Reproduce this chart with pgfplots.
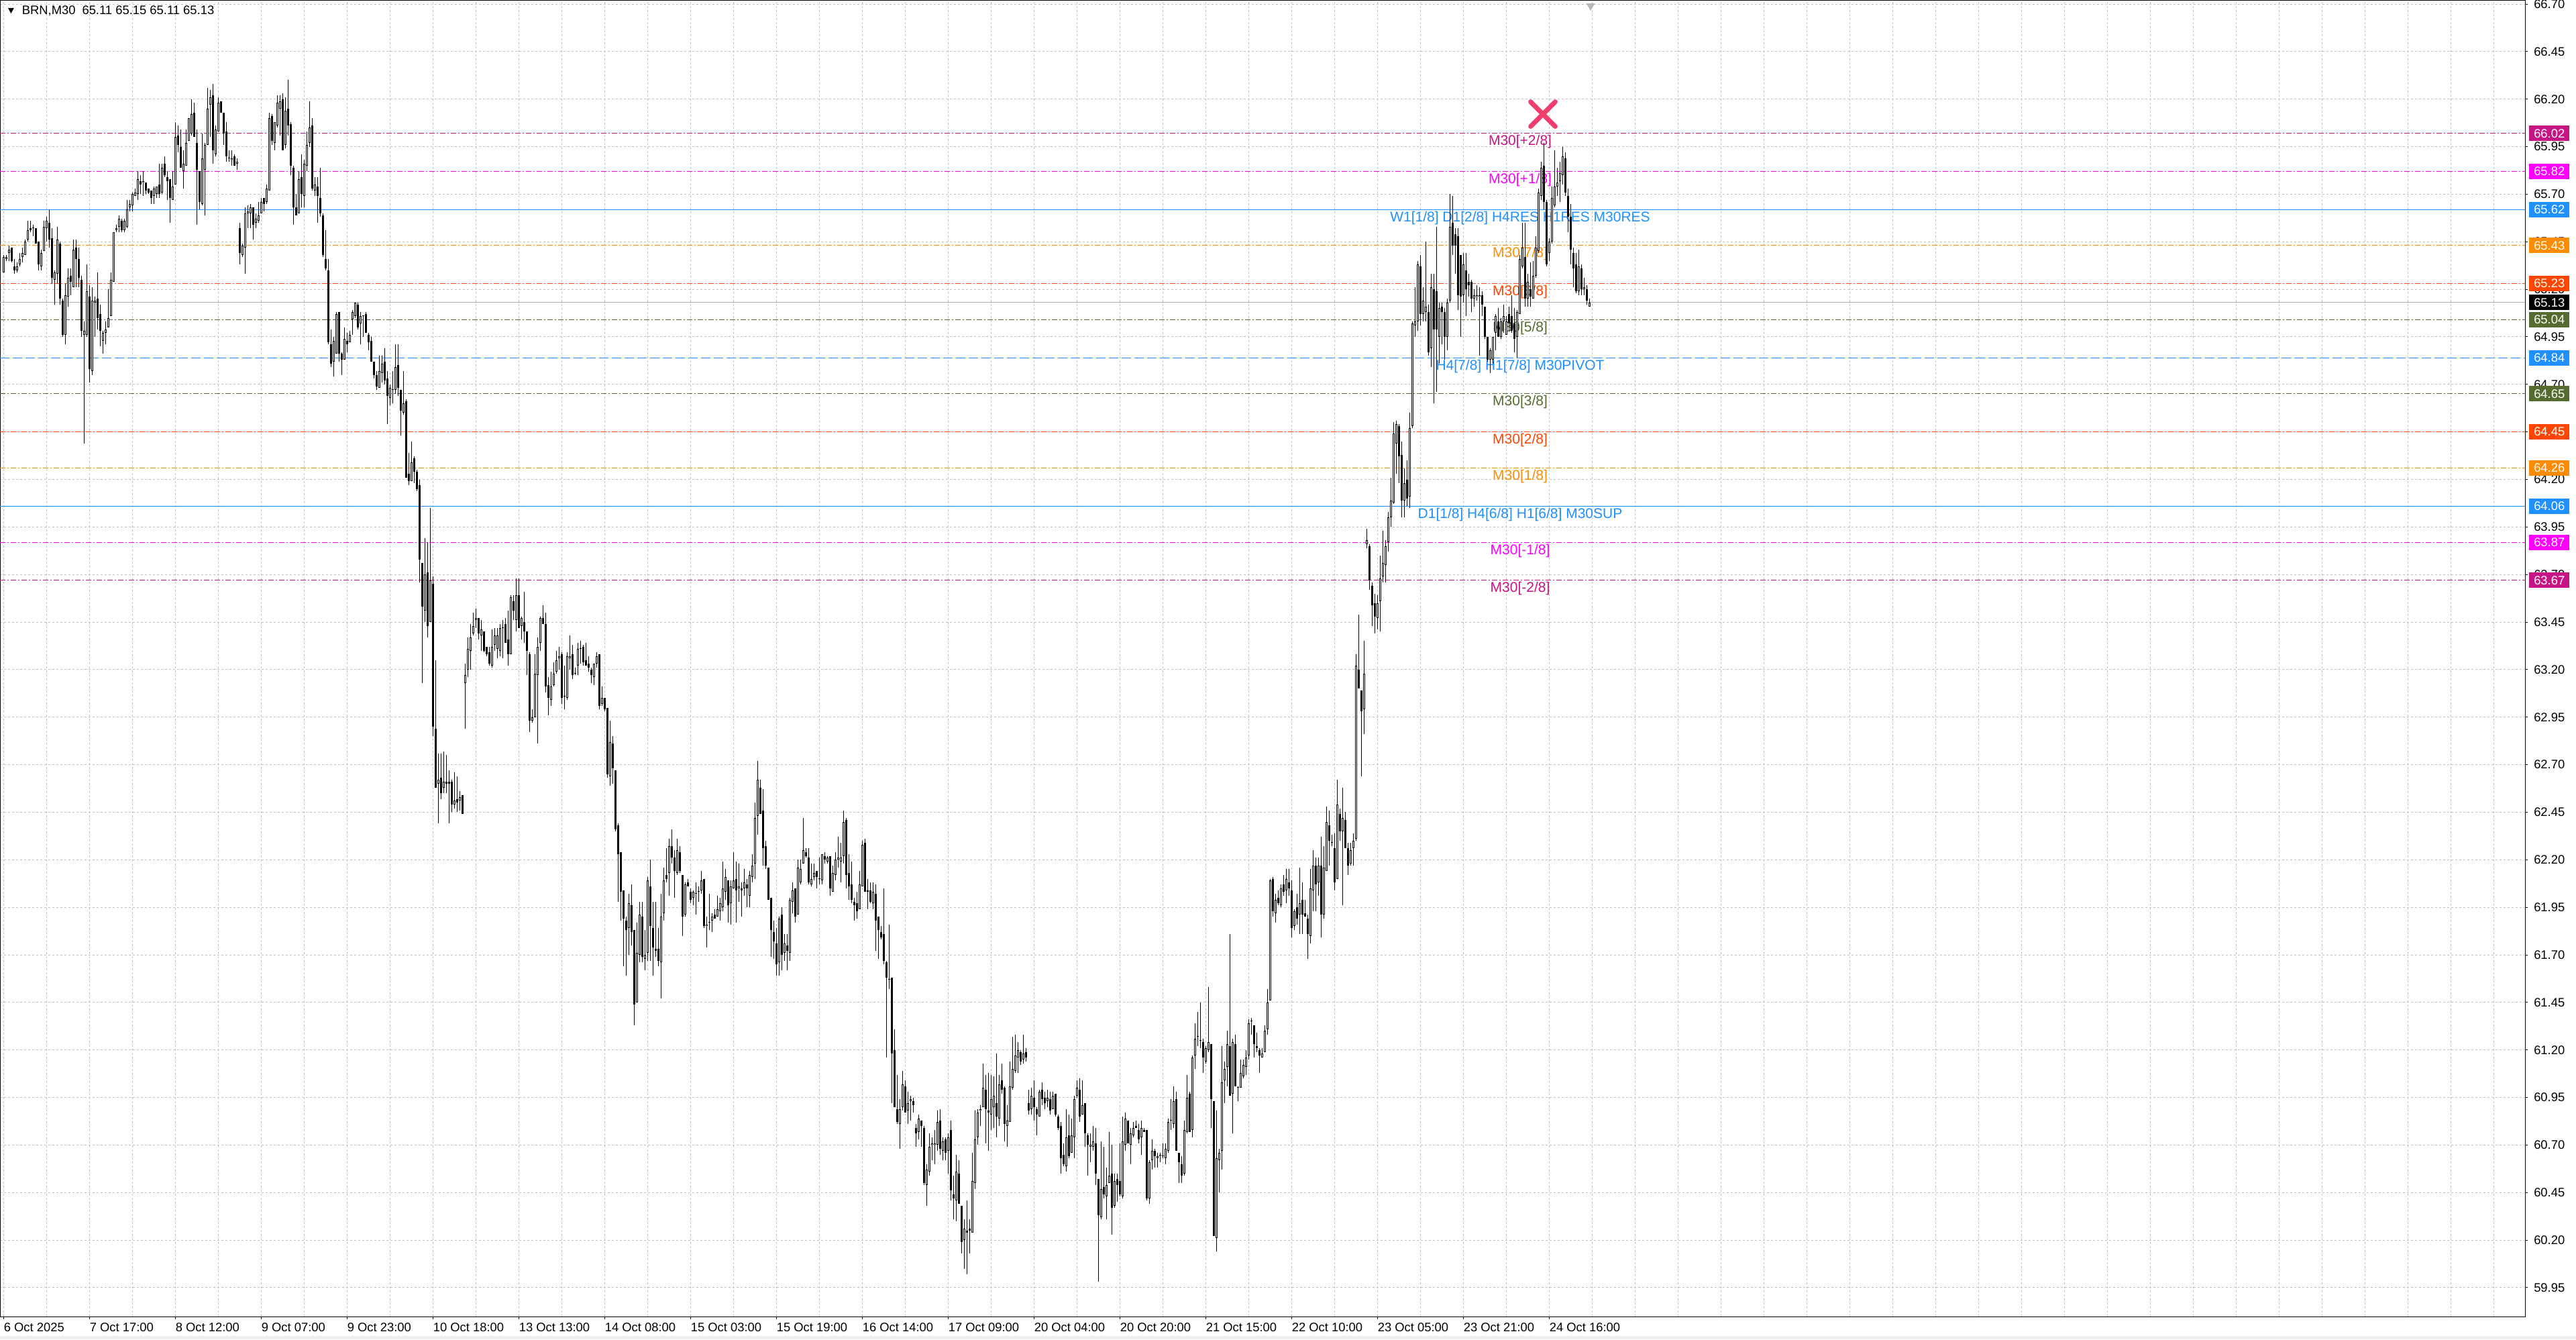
\documentclass[border=0pt]{standalone}
\usepackage{fontspec}
\setmainfont{Liberation Sans}
\usepackage{pgfplots}
\pgfplotsset{compat=1.18}
\usepackage{pgfplotstable}
\definecolor{mvr}{HTML}{C71585}
\definecolor{mag}{HTML}{FF00FF}
\definecolor{dblue}{HTML}{1E90FF}
\definecolor{dorange}{HTML}{FF8C00}
\definecolor{ored}{HTML}{FF4500}
\definecolor{dolive}{HTML}{556B2F}
\definecolor{gridc}{HTML}{C0C0C0}
\definecolor{pline}{HTML}{B0B0B0}
\definecolor{xred}{HTML}{EE3F6F}
\newcommand\axfont{\fontsize{4.6pt}{5.5pt}\selectfont}
\newcommand\lvfont{\fontsize{5.25pt}{6pt}\selectfont}
\tikzset{dashdot/.style={dash pattern=on 2pt off 0.75pt on 0.5pt off 0.75pt},
         longdash/.style={dash pattern=on 3.5pt off 1.25pt}}
\pgfplotstableread{
i O H L C
0 65.29 65.38 65.29 65.37
1 65.36 65.38 65.35 65.37
2 65.39 65.43 65.35 65.41
3 65.42 65.42 65.34 65.35
4 65.32 65.36 65.28 65.30
5 65.30 65.34 65.29 65.32
6 65.33 65.39 65.32 65.36
7 65.37 65.42 65.34 65.39
8 65.38 65.46 65.38 65.45
9 65.46 65.56 65.45 65.51
10 65.52 65.56 65.50 65.51
11 65.52 65.54 65.48 65.52
12 65.52 65.52 65.44 65.44
13 65.45 65.45 65.30 65.33
14 65.32 65.41 65.30 65.39
15 65.40 65.56 65.40 65.53
16 65.52 65.58 65.45 65.56
17 65.55 65.62 65.42 65.46
18 65.47 65.52 65.23 65.26
19 65.25 65.30 65.12 65.29
20 65.28 65.53 65.23 65.46
21 65.44 65.45 65.12 65.15
22 65.14 65.15 64.95 64.96
23 64.96 65.23 64.91 65.17
24 65.16 65.31 65.11 65.26
25 65.27 65.31 65.17 65.24
26 65.21 65.46 65.21 65.41
27 65.42 65.46 65.21 65.36
28 65.36 65.42 65.21 65.26
29 65.25 65.27 64.95 64.98
30 64.96 65.03 64.39 64.98
31 64.96 65.33 64.95 65.19
32 65.16 65.22 64.71 64.78
33 64.77 65.21 64.75 65.14
34 65.13 65.16 64.95 65.14
35 65.15 65.29 64.99 65.05
36 65.07 65.12 64.90 64.98
37 64.93 64.98 64.86 64.97
38 64.97 65.03 64.91 64.99
39 65.00 65.20 65.00 65.05
40 65.06 65.29 65.06 65.25
41 65.24 65.50 65.24 65.50
42 65.51 65.54 65.50 65.52
43 65.53 65.59 65.50 65.57
44 65.56 65.57 65.50 65.51
45 65.51 65.57 65.50 65.56
46 65.53 65.67 65.52 65.62
47 65.63 65.67 65.61 65.65
48 65.64 65.71 65.61 65.70
49 65.69 65.73 65.69 65.71
50 65.70 65.82 65.67 65.78
51 65.77 65.80 65.70 65.75
52 65.76 65.82 65.69 65.77
53 65.76 65.76 65.70 65.72
54 65.73 65.73 65.70 65.71
55 65.72 65.72 65.65 65.68
56 65.69 65.74 65.65 65.73
57 65.70 65.74 65.68 65.74
58 65.75 65.86 65.68 65.70
59 65.71 65.86 65.70 65.84
60 65.86 65.90 65.79 65.80
61 65.79 65.82 65.67 65.77
62 65.78 65.78 65.55 65.68
63 65.67 65.82 65.67 65.74
64 65.75 66.08 65.75 66.00
65 66.01 66.06 65.92 65.96
66 65.95 66.04 65.84 65.84
67 65.82 65.93 65.73 65.86
68 65.85 66.04 65.85 65.97
69 65.98 66.10 65.98 66.10
70 66.02 66.20 66.01 66.12
71 66.13 66.18 66.00 66.00
72 65.97 66.04 65.54 65.83
73 65.82 65.82 65.62 65.66
74 65.65 66.02 65.64 65.89
75 65.83 65.97 65.59 65.96
76 65.96 66.26 65.96 66.15
77 66.17 66.25 66.00 66.21
78 66.22 66.28 65.86 65.93
79 65.91 66.06 65.90 66.04
80 66.03 66.21 66.03 66.18
81 66.19 66.19 66.13 66.13
82 66.13 66.13 65.96 66.02
83 66.03 66.08 65.87 65.90
84 65.89 65.93 65.87 65.89
85 65.88 65.93 65.85 65.89
86 65.90 65.91 65.85 65.85
87 65.86 65.89 65.83 65.87
88 65.52 65.55 65.33 65.39
89 65.38 65.44 65.37 65.43
90 65.42 65.63 65.28 65.60
91 65.60 65.64 65.52 65.61
92 65.60 65.65 65.52 65.63
93 65.63 65.63 65.46 65.54
94 65.55 65.60 65.52 65.57
95 65.56 65.66 65.55 65.59
96 65.60 65.68 65.60 65.66
97 65.68 65.68 65.61 65.65
98 65.66 65.75 65.65 65.73
99 65.72 66.13 65.72 66.10
100 66.11 66.12 65.96 65.98
101 65.97 66.08 65.93 66.08
102 66.06 66.22 66.05 66.18
103 66.15 66.22 66.01 66.19
104 66.20 66.23 65.93 65.93
105 65.96 66.21 65.94 66.14
106 66.15 66.30 66.01 66.06
107 66.07 66.08 65.80 65.85
108 65.84 65.85 65.54 65.63
109 65.63 65.70 65.59 65.59
110 65.60 65.82 65.60 65.78
111 65.79 65.91 65.63 65.70
112 65.69 65.88 65.63 65.86
113 65.85 66.03 65.82 65.96
114 65.97 66.19 65.95 66.05
115 66.06 66.10 65.72 65.73
116 65.72 65.79 65.69 65.75
117 65.74 65.79 65.55 65.69
118 65.68 65.84 65.58 65.60
119 65.59 65.60 65.37 65.38
120 65.36 65.51 65.30 65.31
121 65.30 65.36 64.91 64.92
122 64.91 64.99 64.79 64.81
123 64.82 64.95 64.74 64.93
124 64.86 65.08 64.86 65.07
125 65.08 65.08 64.82 64.86
126 64.86 64.87 64.75 64.83
127 64.83 65.00 64.83 64.94
128 64.93 64.97 64.87 64.91
129 64.92 64.98 64.92 64.96
130 65.04 65.09 64.96 65.08
131 65.06 65.13 65.05 65.13
132 65.12 65.13 64.99 65.00
133 65.02 65.08 64.91 65.06
134 65.06 65.06 64.95 65.06
135 65.07 65.08 64.97 64.97
136 64.96 64.97 64.88 64.92
137 64.93 64.95 64.82 64.82
138 64.82 64.82 64.73 64.75
139 64.75 64.77 64.67 64.69
140 64.68 64.85 64.68 64.77
141 64.76 64.85 64.71 64.81
142 64.82 64.89 64.70 64.72
143 64.73 64.77 64.49 64.64
144 64.63 64.70 64.59 64.68
145 64.67 64.77 64.60 64.67
146 64.67 64.91 64.65 64.79
147 64.80 64.91 64.64 64.68
148 64.67 64.67 64.43 64.56
149 64.55 64.77 64.54 64.60
150 64.61 64.62 64.21 64.21
151 64.23 64.34 64.17 64.19
152 64.19 64.40 64.19 64.29
153 64.31 64.32 64.18 64.24
154 64.24 64.25 64.14 64.15
155 64.17 64.20 63.66 63.78
156 63.76 63.76 63.13 63.53
157 63.51 63.89 63.45 63.70
158 63.71 63.87 63.37 63.43
159 63.45 64.05 63.45 63.67
160 63.65 63.69 62.85 62.90
161 62.89 63.25 62.58 62.58
162 62.60 62.76 62.39 62.62
163 62.63 62.76 62.52 62.55
164 62.58 62.77 62.55 62.61
165 62.61 62.75 62.55 62.60
166 62.61 62.67 62.39 62.60
167 62.61 62.62 62.45 62.49
168 62.49 62.66 62.47 62.51
169 62.52 62.64 62.45 62.50
170 62.51 62.56 62.46 62.53
171 62.54 62.54 62.44 62.44
172 63.13 63.23 62.89 63.17
173 63.20 63.37 63.16 63.31
174 63.30 63.44 63.20 63.37
175 63.39 63.50 63.38 63.43
176 63.46 63.52 63.42 63.47
177 63.47 63.47 63.36 63.39
178 63.38 63.46 63.30 63.41
179 63.40 63.40 63.29 63.30
180 63.32 63.32 63.27 63.28
181 63.29 63.32 63.22 63.23
182 63.22 63.41 63.21 63.32
183 63.33 63.42 63.30 63.38
184 63.31 63.42 63.26 63.38
185 63.30 63.44 63.27 63.42
186 63.42 63.46 63.26 63.42
187 63.44 63.47 63.34 63.34
188 63.36 63.51 63.22 63.28
189 63.28 63.59 63.28 63.58
190 63.56 63.59 63.46 63.51
191 63.46 63.68 63.40 63.59
192 63.59 63.68 63.42 63.42
193 63.43 63.48 63.36 63.47
194 63.45 63.61 63.34 63.40
195 63.40 63.40 63.17 63.30
196 63.28 63.29 62.87 62.93
197 62.93 62.99 62.92 62.95
198 62.95 63.28 62.95 63.18
199 63.17 63.37 62.81 63.32
200 63.34 63.48 63.30 63.47
201 63.47 63.54 63.44 63.44
202 63.44 63.50 63.08 63.11
203 63.12 63.16 62.96 63.05
204 63.04 63.19 63.01 63.11
205 63.12 63.24 63.11 63.18
206 63.19 63.30 63.18 63.25
207 63.26 63.32 63.20 63.27
208 63.28 63.29 63.02 63.05
209 63.06 63.22 62.99 63.06
210 63.05 63.29 63.04 63.27
211 63.26 63.38 63.20 63.27
212 63.28 63.33 63.15 63.17
213 63.18 63.21 63.17 63.18
214 63.22 63.34 63.17 63.31
215 63.31 63.35 63.23 63.31
216 63.32 63.33 63.22 63.24
217 63.25 63.34 63.22 63.22
218 63.23 63.27 63.19 63.21
219 63.20 63.21 63.13 63.17
220 63.16 63.23 63.12 63.23
221 63.23 63.29 63.21 63.27
222 63.28 63.28 62.99 63.01
223 63.02 63.11 63.01 63.05
224 63.05 63.05 62.98 62.99
225 63.00 63.00 62.63 62.65
226 62.64 62.93 62.59 62.82
227 62.81 62.85 62.60 62.68
228 62.67 62.67 62.35 62.36
229 62.38 62.39 61.98 62.23
230 62.24 62.24 61.88 62.03
231 62.04 62.04 61.64 61.89
232 61.88 61.90 61.59 61.83
233 61.84 62.02 61.70 61.97
234 61.96 62.07 61.75 61.82
235 61.83 61.83 61.33 61.44
236 61.45 61.87 61.45 61.71
237 61.70 61.98 61.66 61.91
238 61.90 61.98 61.66 61.69
239 61.68 61.83 61.62 61.70
240 61.71 62.11 61.67 62.09
241 62.06 62.20 61.67 61.85
242 61.84 61.98 61.59 61.74
243 61.73 61.98 61.69 61.72
244 61.73 61.84 61.64 61.67
245 61.66 62.02 61.47 61.90
246 61.92 62.16 61.88 62.09
247 62.12 62.26 62.08 62.10
248 62.13 62.31 62.01 62.27
249 62.27 62.36 62.18 62.21
250 62.21 62.25 62.00 62.14
251 62.13 62.31 62.12 62.25
252 62.24 62.27 62.13 62.14
253 62.12 62.12 61.80 61.90
254 61.91 62.08 61.90 62.07
255 62.08 62.10 62.06 62.06
256 62.03 62.05 61.97 61.99
257 62.00 62.04 61.96 62.03
258 62.02 62.08 61.91 62.02
259 62.03 62.06 61.98 62.03
260 62.04 62.14 62.02 62.09
261 62.10 62.10 61.84 61.85
262 61.85 61.90 61.74 61.86
263 61.87 62.02 61.83 61.87
264 61.88 61.92 61.82 61.90
265 61.91 61.94 61.89 61.89
266 61.90 62.01 61.90 61.94
267 61.93 62.00 61.88 61.97
268 61.95 62.19 61.93 62.05
269 62.03 62.15 61.99 62.11
270 62.09 62.09 61.87 61.96
271 61.97 62.09 61.86 62.06
272 62.05 62.24 62.05 62.09
273 62.10 62.19 61.87 62.04
274 62.05 62.18 61.98 62.06
275 62.05 62.08 61.90 62.04
276 62.05 62.15 62.01 62.08
277 62.07 62.10 61.95 62.05
278 62.01 62.14 61.95 62.12
279 62.11 62.23 62.08 62.17
280 62.18 62.50 62.10 62.42
281 62.43 62.72 62.33 62.62
282 62.58 62.62 62.44 62.44
283 62.46 62.57 62.17 62.26
284 62.27 62.30 62.15 62.17
285 62.16 62.16 61.99 61.99
286 62.00 62.00 61.69 61.83
287 61.82 61.88 61.68 61.77
288 61.76 61.84 61.59 61.65
289 61.66 61.90 61.59 61.89
290 61.91 61.95 61.62 61.70
291 61.71 61.81 61.67 61.76
292 61.75 61.81 61.62 61.72
293 61.71 62.00 61.67 61.99
294 61.98 62.08 61.92 62.04
295 62.05 62.05 61.87 61.90
296 61.91 62.20 61.91 62.16
297 62.08 62.20 62.07 62.15
298 62.18 62.42 62.18 62.25
299 62.24 62.26 62.21 62.22
300 62.21 62.26 62.07 62.08
301 62.07 62.18 62.06 62.10
302 62.11 62.18 62.09 62.13
303 62.14 62.14 62.05 62.11
304 62.10 62.21 62.07 62.10
305 62.09 62.23 62.07 62.23
306 62.22 62.24 62.18 62.20
307 62.19 62.22 62.18 62.21
308 62.22 62.22 62.01 62.05
309 62.03 62.17 62.03 62.13
310 62.12 62.24 62.09 62.20
311 62.20 62.32 62.16 62.21
312 62.19 62.29 62.08 62.21
313 62.22 62.46 62.18 62.40
314 62.41 62.42 62.05 62.12
315 62.13 62.23 61.99 62.06
316 62.07 62.19 61.97 61.99
317 61.98 62.00 61.88 61.96
318 61.97 62.03 61.89 61.93
319 61.94 62.14 61.94 62.07
320 62.06 62.30 62.06 62.28
321 62.29 62.31 62.03 62.03
322 62.04 62.10 61.94 62.03
323 62.04 62.08 61.97 61.98
324 61.97 62.08 61.94 62.03
325 62.02 62.07 61.72 61.88
326 61.90 61.90 61.68 61.83
327 61.82 61.85 61.78 61.79
328 61.81 62.05 61.65 61.67
329 61.66 61.67 61.16 61.58
330 61.57 61.86 61.52 61.57
331 61.58 61.58 60.92 61.18
332 61.20 61.31 60.90 60.90
333 60.89 61.07 60.81 60.82
334 60.81 60.94 60.68 60.89
335 60.90 61.09 60.88 61.02
336 61.01 61.04 60.87 60.87
337 60.88 60.98 60.81 60.92
338 60.93 60.96 60.83 60.94
339 60.93 60.95 60.87 60.91
340 60.79 60.81 60.69 60.76
341 60.77 60.86 60.73 60.84
342 60.83 60.83 60.69 60.80
343 60.79 60.80 60.49 60.50
344 60.49 60.60 60.38 60.57
345 60.56 60.76 60.54 60.69
346 60.70 60.74 60.62 60.71
347 60.70 60.78 60.60 60.71
348 60.70 60.88 60.67 60.82
349 60.83 60.89 60.65 60.68
350 60.67 60.74 60.62 60.72
351 60.73 60.74 60.62 60.66
352 60.67 60.76 60.55 60.74
353 60.78 60.83 60.41 60.46
354 60.44 60.54 60.31 60.42
355 60.41 60.65 60.30 60.56
356 60.55 60.62 60.39 60.39
357 60.38 60.38 60.13 60.19
358 60.20 60.31 60.05 60.26
359 60.25 60.41 60.02 60.24
360 60.26 60.31 60.13 60.25
361 60.24 60.66 60.24 60.51
362 60.50 60.88 60.47 60.73
363 60.74 60.89 60.70 60.87
364 60.88 60.91 60.80 60.89
365 60.90 61.13 60.90 61.00
366 60.99 61.07 60.71 60.89
367 60.88 61.08 60.67 60.87
368 60.86 61.07 60.78 60.94
369 60.90 61.06 60.79 60.96
370 60.92 61.18 60.74 60.85
371 60.84 61.07 60.80 61.02
372 61.04 61.13 60.97 60.99
373 61.00 61.01 60.72 60.81
374 60.80 60.91 60.69 60.83
375 60.82 61.14 60.82 61.01
376 61.00 61.27 60.99 61.10
377 61.09 61.28 61.08 61.17
378 61.16 61.24 61.08 61.20
379 61.19 61.20 61.12 61.14
380 61.15 61.28 61.13 61.18
381 61.19 61.21 61.14 61.16
382 60.92 60.99 60.86 60.88
383 60.89 61.00 60.86 60.96
384 60.95 61.04 60.83 60.90
385 60.89 60.90 60.75 60.86
386 60.85 60.99 60.85 60.98
387 60.99 61.03 60.91 60.94
388 60.95 60.98 60.89 60.92
389 60.93 60.99 60.90 60.95
390 60.94 60.98 60.86 60.88
391 60.89 60.98 60.89 60.96
392 60.97 60.97 60.85 60.86
393 60.85 60.86 60.78 60.79
394 60.80 60.82 60.55 60.63
395 60.65 60.71 60.59 60.60
396 60.59 60.89 60.56 60.74
397 60.75 60.86 60.63 60.64
398 60.66 60.84 60.66 60.75
399 60.74 60.96 60.63 60.94
400 60.96 61.04 60.95 61.00
401 60.99 61.05 60.82 60.85
402 60.86 61.04 60.86 60.91
403 60.92 60.92 60.69 60.76
404 60.75 60.76 60.54 60.70
405 60.69 60.76 60.61 60.70
406 60.69 60.80 60.67 60.72
407 60.71 60.79 60.49 60.55
408 60.52 60.52 59.98 60.33
409 60.32 60.72 60.31 60.47
410 60.48 60.69 60.42 60.44
411 60.43 60.58 60.31 60.49
412 60.50 60.77 60.50 60.54
413 60.55 60.70 60.23 60.37
414 60.38 60.55 60.37 60.51
415 60.52 60.55 60.40 60.49
416 60.51 60.71 60.43 60.44
417 60.43 60.85 60.42 60.72
418 60.70 60.87 60.67 60.84
419 60.83 60.83 60.71 60.71
420 60.70 60.79 60.60 60.76
421 60.75 60.82 60.74 60.79
422 60.80 60.83 60.79 60.79
423 60.78 60.81 60.71 60.73
424 60.74 60.83 60.65 60.79
425 60.78 60.79 60.77 60.77
426 60.78 60.78 60.41 60.42
427 60.42 60.62 60.39 60.61
428 60.62 60.73 60.57 60.67
429 60.67 60.68 60.58 60.64
430 60.63 60.66 60.58 60.64
431 60.64 60.66 60.61 60.65
432 60.64 60.71 60.63 60.64
433 60.63 60.71 60.60 60.68
434 60.67 60.84 60.66 60.82
435 60.83 60.94 60.78 60.83
436 60.81 61.01 60.79 60.93
437 60.94 60.98 60.67 60.67
438 60.66 60.66 60.50 60.61
439 60.60 60.64 60.50 60.54
440 60.55 60.83 60.54 60.78
441 60.77 61.07 60.76 60.95
442 60.97 60.98 60.77 60.77
443 60.78 61.17 60.74 61.16
444 61.17 61.34 61.10 61.26
445 61.27 61.40 61.22 61.27
446 61.25 61.45 61.21 61.25
447 61.24 61.26 61.08 61.16
448 61.14 61.22 61.13 61.21
449 61.20 61.53 61.19 61.24
450 61.23 61.23 60.79 60.94
451 60.93 60.93 60.22 60.22
452 60.21 60.88 60.14 60.63
453 60.62 60.68 60.45 60.66
454 60.67 61.22 60.57 61.03
455 61.04 61.14 60.92 61.10
456 61.11 61.30 61.01 61.23
457 61.22 61.81 60.96 60.96
458 60.97 61.26 60.76 61.24
459 61.23 61.28 61.01 61.01
460 61.00 61.01 60.93 61.00
461 61.00 61.15 61.00 61.08
462 61.06 61.15 61.05 61.12
463 61.11 61.20 61.07 61.16
464 61.17 61.36 61.15 61.34
465 61.35 61.37 61.28 61.35
466 61.33 61.33 61.16 61.23
467 61.22 61.29 61.19 61.21
468 61.20 61.21 61.08 61.17
469 61.16 61.21 61.16 61.18
470 61.19 61.33 61.19 61.30
471 61.31 61.52 61.28 61.45
472 61.46 62.10 61.46 62.09
473 62.10 62.11 61.90 61.93
474 61.92 62.02 61.87 61.99
475 62.00 62.04 61.96 61.97
476 61.96 62.07 61.95 62.05
477 62.07 62.12 62.01 62.03
478 62.04 62.15 61.97 62.10
479 62.08 62.15 62.01 62.05
480 62.04 62.09 61.79 61.84
481 61.85 61.94 61.83 61.93
482 61.95 62.02 61.86 61.89
483 61.91 62.16 61.81 61.97
484 61.99 62.08 61.81 61.91
485 61.92 61.99 61.90 61.90
486 61.89 61.91 61.68 61.81
487 61.80 62.15 61.76 62.05
488 62.04 62.25 61.93 62.17
489 62.17 62.21 61.93 62.07
490 62.08 62.21 62.01 62.17
491 62.17 62.32 61.79 61.91
492 61.91 62.27 61.89 62.16
493 62.14 62.48 62.14 62.40
494 62.38 62.46 62.17 62.30
495 62.29 62.33 62.27 62.29
496 62.26 62.34 62.04 62.08
497 62.10 62.62 62.10 62.49
498 62.44 62.47 62.30 62.35
499 62.35 62.58 61.96 62.42
500 62.41 62.45 62.26 62.26
501 62.26 62.29 62.12 62.17
502 62.18 62.29 62.17 62.25
503 62.26 62.34 62.17 62.30
504 62.31 63.28 62.30 63.22
505 63.20 63.49 63.10 63.10
506 63.09 63.09 62.64 62.98
507 62.99 63.35 62.86 63.18
508 63.86 63.94 63.84 63.88
509 63.85 63.86 63.62 63.67
510 63.64 63.66 63.43 63.54
511 63.55 63.60 63.39 63.48
512 63.47 63.59 63.41 63.55
513 63.56 63.80 63.40 63.68
514 63.69 63.93 63.66 63.76
515 63.75 63.88 63.66 63.85
516 63.87 64.03 63.82 64.00
517 64.00 64.21 63.95 64.09
518 64.08 64.50 64.07 64.44
519 64.39 64.51 64.23 64.49
520 64.48 64.49 64.18 64.32
521 64.33 64.40 64.00 64.09
522 64.09 64.26 64.00 64.18
523 64.20 64.30 64.06 64.10
524 64.11 64.55 64.05 64.47
525 64.48 65.03 64.47 65.02
526 65.01 65.21 64.95 65.03
527 65.03 65.35 64.98 65.33
528 65.32 65.38 65.01 65.07
529 65.07 65.21 65.03 65.14
530 65.08 65.45 65.03 65.11
531 65.08 65.12 64.85 64.87
532 64.89 65.28 64.79 65.21
533 65.20 65.28 64.60 64.99
534 65.19 65.53 64.66 64.99
535 64.95 65.13 64.81 65.10
536 65.11 65.13 64.91 65.08
537 65.08 65.10 64.83 64.95
538 64.95 65.15 64.88 65.13
539 65.14 65.70 65.13 65.53
540 65.55 65.69 65.38 65.43
541 65.49 65.52 65.28 65.43
542 65.48 65.52 65.09 65.17
543 65.38 65.38 64.95 65.16
544 65.17 65.39 65.13 65.33
545 65.30 65.39 65.06 65.20
546 65.24 65.28 65.16 65.22
547 65.24 65.25 65.08 65.15
548 65.15 65.20 65.11 65.17
549 65.16 65.22 65.14 65.17
550 65.16 65.21 64.85 65.17
551 65.17 65.19 65.06 65.12
552 65.11 65.11 64.94 64.95
553 64.95 64.95 64.82 64.83
554 64.83 64.89 64.76 64.88
555 64.83 64.95 64.81 64.95
556 64.97 65.07 64.88 65.06
557 65.03 65.10 64.95 64.95
558 64.95 65.05 64.94 65.03
559 65.03 65.12 64.97 65.06
560 64.96 65.06 64.96 65.03
561 65.07 65.11 64.98 65.02
562 65.06 65.17 64.97 64.98
563 65.02 65.10 64.87 64.94
564 64.95 65.09 64.84 65.08
565 65.07 65.38 65.07 65.36
566 65.32 65.55 65.31 65.42
567 65.37 65.55 65.11 65.15
568 65.15 65.28 65.11 65.24
569 65.20 65.34 65.11 65.16
570 65.15 65.35 65.15 65.27
571 65.27 65.48 65.26 65.42
572 65.40 65.73 65.39 65.71
573 65.69 65.87 65.67 65.84
574 65.85 65.97 65.62 65.66
575 65.66 65.67 65.32 65.33
576 65.39 65.47 65.35 65.45
577 65.45 65.74 65.44 65.68
578 65.64 65.93 65.63 65.74
579 65.74 65.84 65.69 65.76
580 65.77 65.87 65.66 65.81
581 65.80 65.95 65.75 65.90
582 65.89 65.92 65.69 65.71
583 65.69 65.73 65.50 65.58
584 65.58 65.65 65.33 65.41
585 65.39 65.42 65.21 65.31
586 65.33 65.39 65.18 65.19
587 65.19 65.41 65.17 65.32
588 65.31 65.33 65.17 65.20
589 65.20 65.26 65.17 65.21
590 65.20 65.22 65.12 65.14
591 65.11 65.15 65.11 65.13
}\candles
% build the candle paths (one path per layer) from the table
\pgfplotstableforeachcolumnelement{i}\of\candles\as\v{\expandafter\xdef\csname cdi\pgfplotstablerow\endcsname{\v}}
\pgfplotstableforeachcolumnelement{O}\of\candles\as\v{\expandafter\xdef\csname cdO\pgfplotstablerow\endcsname{\v}}
\pgfplotstableforeachcolumnelement{H}\of\candles\as\v{\expandafter\xdef\csname cdH\pgfplotstablerow\endcsname{\v}}
\pgfplotstableforeachcolumnelement{L}\of\candles\as\v{\expandafter\xdef\csname cdL\pgfplotstablerow\endcsname{\v}}
\pgfplotstableforeachcolumnelement{C}\of\candles\as\v{\expandafter\xdef\csname cdC\pgfplotstablerow\endcsname{\v}}
\pgfplotstablegetrowsof{\candles}
\pgfmathtruncatemacro\lastrow{\pgfplotsretval-1}
\gdef\wickpath{}\gdef\bodypath{}\gdef\whitepath{}
\foreach \r in {0,...,\lastrow}{%
  \edef\ci{\csname cdi\r\endcsname}%
  \edef\co{\csname cdO\r\endcsname}%
  \edef\ch{\csname cdH\r\endcsname}%
  \edef\cl{\csname cdL\r\endcsname}%
  \edef\cc{\csname cdC\r\endcsname}%
  \xdef\wickpath{\wickpath(\ci,\cl)(\ci,\ch)(\ci,nan)}%
  \pgfmathsetmacro\lo{min(\co,\cc)}%
  \pgfmathsetmacro\hi{max(\co,\cc,\lo+0.0035)}%
  \xdef\bodypath{\bodypath(\ci,\lo)(\ci,\hi)(\ci,nan)}%
  \pgfmathtruncatemacro\isbull{(\cc-\co)>0.0075}%
  \ifnum\isbull>0
    \pgfmathsetmacro\wa{\co+0.0035}%
    \pgfmathsetmacro\wb{\cc-0.0035}%
    \xdef\whitepath{\whitepath(\ci,\wa)(\ci,\wb)(\ci,nan)}%
  \fi}
\begin{document}
\begin{tikzpicture}[x=1pt,y=1pt]
\fill[white] (0,0) rectangle (960,499);
\fill[gray!12] (0,0) rectangle (960,1.25);
\begin{axis}[
  at={(0pt,8.5pt)}, anchor=south west,
  scale only axis, width=941pt, height=490.5pt,
  xmin=-1.25, xmax=939.75, ymin=59.798, ymax=66.7212,
  axis line style={line width=0.25pt, black},
  xtick={0,32,...,576}, xticklabels={},
  minor xtick={16,48,...,912},
  extra x ticks={608,640,...,928}, extra x tick labels={},
  extra x tick style={grid=major, major tick length=0pt},
  ytick={59.95,60.2,60.45,60.7,60.95,61.2,61.45,61.7,61.95,62.2,62.45,62.7,62.95,63.2,63.45,63.7,63.95,64.2,64.45,64.7,64.95,65.2,65.45,65.7,65.95,66.2,66.45,66.7},
  yticklabels={},
  ytick pos=right, xtick pos=bottom,
  tick align=outside, major tick length=1pt, minor tick length=0pt,
  tick style={line width=0.25pt, black},
  grid=both,
  major grid style={gridc, line width=0.25pt, dash pattern=on 0.75pt off 0.75pt},
  minor grid style={gridc, line width=0.25pt, dash pattern=on 0.75pt off 0.75pt},
  clip=false,
]
% level lines
\addplot[mvr, line width=0.25pt, dashdot] coordinates {(-1.25,66.02) (939.75,66.02)};
\addplot[mag, line width=0.25pt, dashdot] coordinates {(-1.25,65.82) (939.75,65.82)};
\addplot[dblue, line width=0.25pt] coordinates {(-1.25,65.62) (939.75,65.62)};
\addplot[dorange, line width=0.25pt, dashdot] coordinates {(-1.25,65.43) (939.75,65.43)};
\addplot[ored, line width=0.25pt, dashdot] coordinates {(-1.25,65.23) (939.75,65.23)};
\addplot[pline, line width=0.25pt] coordinates {(-1.25,65.13) (939.75,65.13)};
\addplot[dolive, line width=0.25pt, dashdot] coordinates {(-1.25,65.04) (939.75,65.04)};
\addplot[dblue, line width=0.25pt, longdash] coordinates {(-1.25,64.84) (939.75,64.84)};
\addplot[dolive, line width=0.25pt, dashdot] coordinates {(-1.25,64.65) (939.75,64.65)};
\addplot[ored, line width=0.25pt, dashdot] coordinates {(-1.25,64.45) (939.75,64.45)};
\addplot[dorange, line width=0.25pt, dashdot] coordinates {(-1.25,64.26) (939.75,64.26)};
\addplot[dblue, line width=0.25pt] coordinates {(-1.25,64.06) (939.75,64.06)};
\addplot[mag, line width=0.25pt, dashdot] coordinates {(-1.25,63.87) (939.75,63.87)};
\addplot[mvr, line width=0.25pt, dashdot] coordinates {(-1.25,63.67) (939.75,63.67)};
% level labels
\tikzset{lvl/.style={anchor=north, inner sep=0pt, yshift=-0.5pt, font=\lvfont}}
\node[lvl, text=mvr] at (axis cs:565.25,66.02) {M30[+2/8]};
\node[lvl, text=mag] at (axis cs:565.25,65.82) {M30[+1/8]};
\node[lvl, text=dblue] at (axis cs:565.25,65.62) {W1[1/8] D1[2/8] H4RES H1RES M30RES};
\node[lvl, text=dorange] at (axis cs:565.25,65.43) {M30[7/8]};
\node[lvl, text=ored] at (axis cs:565.25,65.23) {M30[6/8]};
\node[lvl, text=dolive] at (axis cs:565.25,65.04) {M30[5/8]};
\node[lvl, text=dblue] at (axis cs:565.25,64.84) {H4[7/8] H1[7/8] M30PIVOT};
\node[lvl, text=dolive] at (axis cs:565.25,64.65) {M30[3/8]};
\node[lvl, text=ored] at (axis cs:565.25,64.45) {M30[2/8]};
\node[lvl, text=dorange] at (axis cs:565.25,64.26) {M30[1/8]};
\node[lvl, text=dblue] at (axis cs:565.25,64.06) {D1[1/8] H4[6/8] H1[6/8] M30SUP};
\node[lvl, text=mag] at (axis cs:565.25,63.87) {M30[-1/8]};
\node[lvl, text=mvr] at (axis cs:565.25,63.67) {M30[-2/8]};
% candles
\edef\tmp{\noexpand\addplot[black, line width=0.25pt, unbounded coords=jump, mark=none] coordinates {\wickpath};}\tmp
\edef\tmp{\noexpand\addplot[black, line width=0.75pt, unbounded coords=jump, mark=none] coordinates {\bodypath};}\tmp
\edef\tmp{\noexpand\addplot[white, line width=0.25pt, unbounded coords=jump, mark=none] coordinates {\whitepath};}\tmp
% X marker
\addplot[only marks, mark=x, mark size=6.5pt, mark options={line width=1.75pt, line cap=round, draw=xred}] coordinates {(573.75,66.121)};
% shift marker
\addplot[only marks, mark=triangle*, mark size=1.4pt, mark options={rotate=180, fill=gray!55, draw=gray!55}] coordinates {(591.5,66.69)};
\end{axis}
% right price labels
\foreach \t in {59.95,60.20,60.45,60.70,60.95,61.20,61.45,61.70,61.95,62.20,62.45,62.70,62.95,63.20,63.45,63.70,63.95,64.20,64.45,64.70,64.95,65.20,65.45,65.70,65.95,66.20,66.45,66.70}
  \node[anchor=west, inner sep=0pt, font=\axfont] at (944.1,{8.5+(\t-59.798)*70.849}) {\t};
% coloured price boxes
\foreach \p/\c in {66.02/mvr,65.82/mag,65.62/dblue,65.43/dorange,65.23/ored,65.13/black,65.04/dolive,64.84/dblue,64.65/dolive,64.45/ored,64.26/dorange,64.06/dblue,63.87/mag,63.67/mvr}{
  \node[fill=\c, anchor=west, minimum width=15pt, minimum height=5.75pt, inner sep=0pt] at (942.25,{8.5+(\p-59.798)*70.849}) {};
  \node[anchor=west, inner sep=0pt, text=white, font=\axfont] at (944.1,{8.5+(\p-59.798)*70.849}) {\p};
}
% time labels
\foreach \i/\lab in {0/6 Oct 2025,32/7 Oct 17:00,64/8 Oct 12:00,96/9 Oct 07:00,128/9 Oct 23:00,160/10 Oct 18:00,192/13 Oct 13:00,224/14 Oct 08:00,256/15 Oct 03:00,288/15 Oct 19:00,320/16 Oct 14:00,352/17 Oct 09:00,384/20 Oct 04:00,416/20 Oct 20:00,448/21 Oct 15:00,480/22 Oct 10:00,512/23 Oct 05:00,544/23 Oct 21:00,576/24 Oct 16:00}
  \node[anchor=north west, inner sep=0pt, font=\axfont] at ({1.25+\i},6.375) {\lab};
% header
\fill (3,496) -- (5.2,496) -- (4.1,494) -- cycle;
\node[anchor=west, inner sep=0pt, font=\axfont] at (8,494.9) {BRN,M30\hspace{2.5pt}65.11 65.15 65.11 65.13};
\pgfresetboundingbox
\useasboundingbox (0,0) rectangle (960,499);
\end{tikzpicture}
\end{document}
